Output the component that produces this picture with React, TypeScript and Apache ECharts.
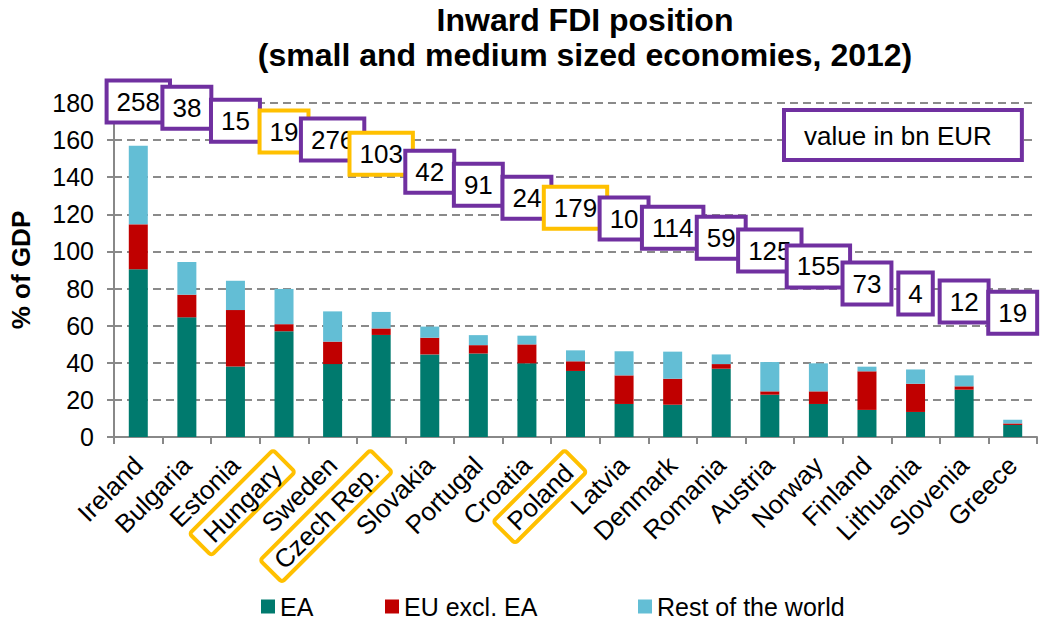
import React, { useEffect, useRef } from "react";
import * as echarts from "echarts";

const categories = [
  "Ireland", "Bulgaria", "Estonia", "Hungary", "Sweden", "Czech Rep.", "Slovakia",
  "Portugal", "Croatia", "Poland", "Latvia", "Denmark", "Romania", "Austria",
  "Norway", "Finland", "Lithuania", "Slovenia", "Greece",
];
const ea = [90.4, 64.5, 38, 57, 39.3, 55, 44.5, 45, 39.7, 35.6, 17.8, 17.4, 36.8, 22.8, 17.8, 14.6, 13.5, 25.5, 6.5];
const euExclEa = [24.2, 12.2, 30.4, 3.8, 12.1, 3.5, 9, 4.5, 10.2, 5.2, 15.4, 14, 2.5, 1.8, 6.8, 20.8, 15.2, 1.8, 0.8];
const restOfWorld = [42.4, 17.6, 15.8, 19, 16.3, 8.9, 6, 5.4, 4.7, 5.9, 13, 14.6, 5.2, 15.8, 15.1, 2.5, 7.7, 5.9, 2];
const valueBnEur = [258, 38, 15, 19, 276, 103, 42, 91, 24, 179, 10, 114, 59, 125, 155, 73, 4, 12, 19];
const labelLevel = [180.8, 177.5, 170.5, 164.6, 160.3, 152.7, 143, 136, 129, 123.6, 117.7, 112.8, 107.4, 100.5, 91.9, 82.7, 77.3, 73, 67];
const highlighted = ["Hungary", "Czech Rep.", "Poland"];
const yTicks = { min: 0, max: 180, interval: 20 };

const FONT = "'Liberation Sans', Arial, sans-serif";
const PURPLE = "#7030A0";
const YELLOW = "#FFC000";

export default function App() {
  const ref = useRef<HTMLDivElement>(null);
  useEffect(() => {
    if (!ref.current) return;
    const chart = echarts.init(ref.current, undefined, { renderer: "svg" });
    const option: any = {
      animation: false,
      backgroundColor: "#ffffff",
      textStyle: { fontFamily: FONT },
      graphic: [
        {
          type: "text",
          x: 585,
          y: 2,
          style: {
            text: "Inward FDI position\n(small and medium sized economies, 2012)",
            textAlign: "center",
            fontFamily: FONT,
            fontWeight: "bold",
            fontSize: 32,
            lineHeight: 35,
            fill: "#000",
          },
        },
        {
          type: "text",
          x: 786,
          y: 112,
          z: 100,
          style: {
            text: "value in bn EUR",
            textAlign: "left",
            textVerticalAlign: "top",
            fontFamily: FONT,
            fontSize: 26,
            fill: "#000",
            backgroundColor: "#fff",
            borderColor: PURPLE,
            borderWidth: 4,
            padding: [11, 28, 9, 18],
          },
        },
      ],
      legend: [
        { data: ["EA"], left: 261, top: 594 },
        { data: ["EU excl. EA"], left: 385, top: 594 },
        { data: ["Rest of the world"], left: 638, top: 594 },
      ].map((l) => ({
        ...l,
        icon: "rect",
        itemWidth: 14,
        itemHeight: 14,
        padding: 0,
        textStyle: { fontSize: 25, lineHeight: 24, color: "#000", fontFamily: FONT },
      })),
      grid: { left: 114, right: 8, top: 103, bottom: 184 },
      xAxis: {
        type: "category",
        data: categories,
        axisLine: { lineStyle: { color: "#888", width: 2 } },
        axisTick: { show: true, length: 7, lineStyle: { color: "#888", width: 2 } },
        axisLabel: {
          rotate: 45,
          margin: 24,
          interval: 0,
          fontSize: 26,
          color: "#000",
          fontFamily: FONT,
          formatter: (v: string) => (highlighted.includes(v) ? `{hl|${v}}` : v),
          rich: {
            hl: {
              fontSize: 26,
              color: "#000",
              fontFamily: FONT,
              borderColor: YELLOW,
              borderWidth: 4,
              borderRadius: 3,
              padding: [3, 10, 2, 10],
            },
          },
        },
      },
      yAxis: {
        type: "value",
        min: yTicks.min,
        max: yTicks.max,
        interval: yTicks.interval,
        name: "% of GDP",
        nameLocation: "middle",
        nameRotate: 90,
        nameGap: 80,
        nameTextStyle: { fontSize: 26, fontWeight: "bold", color: "#000", fontFamily: FONT },
        axisLine: { show: true, lineStyle: { color: "#888", width: 2 } },
        axisTick: { show: true, length: 7, lineStyle: { color: "#888", width: 2 } },
        axisLabel: { fontSize: 25, color: "#000", margin: 20, fontFamily: FONT },
        splitLine: { show: true, lineStyle: { color: "#8a8a8a", width: 2, type: [8, 5] } },
      },
      series: [
        { name: "EA", type: "bar", stack: "fdi", barWidth: 19, data: ea, itemStyle: { color: "#007A6E" } },
        { name: "EU excl. EA", type: "bar", stack: "fdi", data: euExclEa, itemStyle: { color: "#C00000" } },
        { name: "Rest of the world", type: "bar", stack: "fdi", data: restOfWorld, itemStyle: { color: "#63BED5" } },
        {
          name: "value",
          type: "scatter",
          symbolSize: 0,
          clip: false,
          itemStyle: { color: "#fff", opacity: 1 },
          z: 10,
          silent: true,
          emphasis: { disabled: true },
          data: categories.map((c, i) => ({
            value: [i, labelLevel[i]],
            label: {
              show: true,
              position: "inside",
              formatter: String(valueBnEur[i]),
              fontSize: 26,
              color: "#000",
              opacity: 1,
              fontFamily: FONT,
              backgroundColor: "#fff",
              borderColor: highlighted.includes(c) ? YELLOW : PURPLE,
              borderWidth: 4,
              padding: [7, 8, 5, 8],
            },
          })),
        },
      ],
    };
    chart.setOption(option);
    return () => chart.dispose();
  }, []);
  return (
    <div
      ref={ref}
      style={{ position: "fixed", left: 0, top: 0, width: 1045, height: 621, background: "#fff" }}
    />
  );
}
